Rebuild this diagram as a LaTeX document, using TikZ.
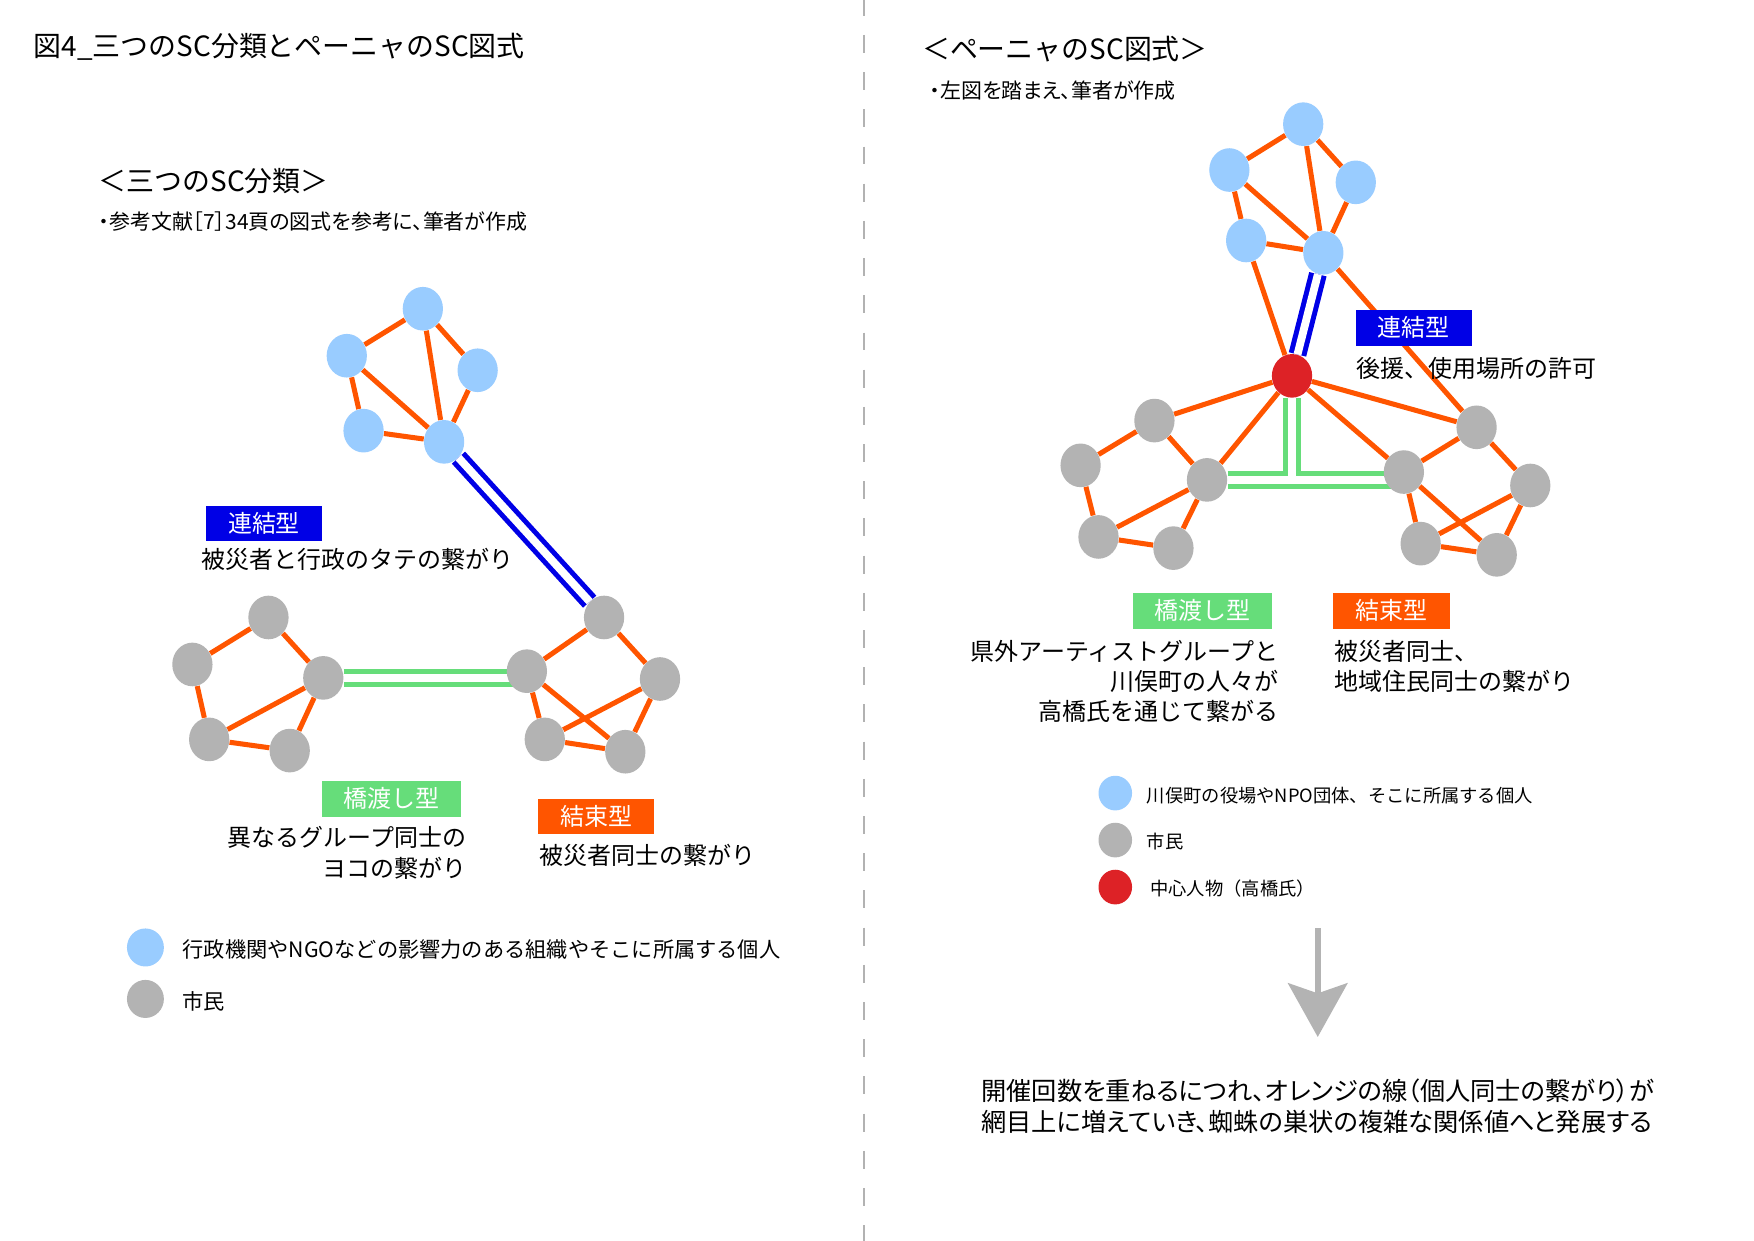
\documentclass[tikz,border=0pt]{standalone}
\usepackage{fontspec}
\setmainfont{Noto Sans CJK JP}
\newfontfamily\proptext[RawFeature=+palt]{Noto Sans CJK JP}
\usepackage{xcolor}
\usetikzlibrary{arrows.meta,shapes,positioning,calc,backgrounds}

\definecolor{orgblue}{RGB}{153,204,255}
\definecolor{citgray}{RGB}{179,179,179}
\definecolor{keyred}{RGB}{221,34,38}
\definecolor{bondorange}{RGB}{255,85,0}
\definecolor{linkblue}{RGB}{0,0,230}
\definecolor{bridgegreen}{RGB}{102,221,122}
\definecolor{rulegray}{RGB}{178,178,178}

\begin{document}
\begin{tikzpicture}[x=0.2mm,y=-0.2mm,
    person/.style={ellipse, fill=orgblue, minimum width=7.2mm, minimum height=7.8mm, inner sep=0},
    citizen/.style={person, fill=citgray},
    leader/.style={person, fill=keyred},
    tie/.style={bondorange, line width=0.9mm},
    vlink/.style={linkblue, line width=0.9mm, double=white, double distance=1.4mm},
    hlink/.style={bridgegreen, line width=0.9mm, double=white, double distance=1.4mm},
    tag/.style={text=white, font=\fontsize{12.2pt}{14pt}\selectfont, minimum width=20.8mm, minimum height=6.4mm, inner sep=0},
    desc/.style={font=\fontsize{12.2pt}{15.4pt}\selectfont, inner sep=0},
    heading/.style={font=\fontsize{14.2pt}{17pt}\selectfont, anchor=west, inner sep=0},
    remark/.style={font=\proptext\fontsize{10.65pt}{12pt}\selectfont, anchor=west, inner sep=0},
    keytext/.style={font=\fontsize{10.8pt}{13pt}\selectfont, anchor=west, inner sep=0},
    keytextr/.style={keytext, font=\fontsize{9.3pt}{11pt}\selectfont},
    keydot/.style={minimum width=6.6mm, minimum height=6.8mm},
    keydotr/.style={minimum width=6mm, minimum height=6.2mm},
    summary/.style={font=\proptext\fontsize{12.85pt}{15.9pt}\selectfont, inner sep=0}]

    \useasboundingbox (0,0) rectangle (1568,1109);

    % Headings
    \node[heading] (title) at (30,42) {図4\_三つのSC分類とペーニャのSC図式};
    \node[heading] (ltitle) at (88,162) {＜三つのSC分類＞};
    \node[remark] (lnote) at (88,198) {・参考文献［7］34頁の図式を参考に、筆者が作成};
    \node[heading] (rtitle) at (824,44) {＜ペーニャのSC図式＞};
    \node[remark] (rnote) at (831,81) {・左図を踏まえ、筆者が作成};

    % Left: three SC types
    \node[person] (bT) at (378,276) {};
    \node[person] (bL) at (310,318) {};
    \node[person] (bR) at (427,331) {};
    \node[person] (bB) at (325,385) {};
    \node[person] (bH) at (397,395) {};

    \node[citizen] (gT) at (240,552) {};
    \node[citizen] (gL) at (172,594) {};
    \node[citizen] (gH) at (289,606) {};
    \node[citizen] (gBL) at (187,661) {};
    \node[citizen] (gB) at (259,671) {};

    \node[citizen] (hT) at (540,552) {};
    \node[citizen] (hH) at (471,600) {};
    \node[citizen] (hR) at (590,607) {};
    \node[citizen] (hBL) at (487,661) {};
    \node[citizen] (hB) at (559,672) {};

    \node[tag, fill=linkblue] (ltagV) at (236,468) {連結型};
    \node[desc, anchor=west] (ldescV) at (180,500) {被災者と行政のタテの繋がり};
    \node[tag, fill=bridgegreen, minimum width=24.8mm] (ltagB) at (350,714) {橋渡し型};
    \node[desc, anchor=east, align=right] (ldescB) at (417,762.5) {異なるグループ同士の\\ヨコの繋がり};
    \node[tag, fill=bondorange] (ltagT) at (533,730) {結束型};
    \node[desc, anchor=west] (ldescT) at (482,765) {被災者同士の繋がり};

    \node[person, keydot] (lkeyO) at (130,847) {};
    \node[keytext] (lkeyOt) at (163,849) {行政機関やNGOなどの影響力のある組織やそこに所属する個人};
    \node[citizen, keydot] (lkeyC) at (130,893) {};
    \node[keytext] (lkeyCt) at (163,895) {市民};

    % Right: Pena's SC scheme
    \node[person] (pT) at (1165,111) {};
    \node[person] (pL) at (1099,152) {};
    \node[person] (pR) at (1212,163) {};
    \node[person] (pB) at (1114,215) {};
    \node[person] (pH) at (1183,226) {};

    \node[leader] (ctr) at (1155,336) {};

    \node[citizen] (kT) at (1032,376) {};
    \node[citizen] (kL) at (966,416) {};
    \node[citizen] (kH) at (1079,429) {};
    \node[citizen] (kBL) at (982,480) {};
    \node[citizen] (kB) at (1049,490) {};

    \node[citizen] (lT) at (1320,382) {};
    \node[citizen] (lH) at (1255,422) {};
    \node[citizen] (lR) at (1368,434) {};
    \node[citizen] (lBL) at (1270,486) {};
    \node[citizen] (lB) at (1338,496) {};

    \node[tag, fill=linkblue] (rtagV) at (1264,293) {連結型};
    \node[desc, anchor=west] (rdescV) at (1212,329) {後援、使用場所の許可};
    \node[tag, fill=bridgegreen, minimum width=24.8mm] (rtagB) at (1075,546) {橋渡し型};
    \node[desc, anchor=east, align=right] (rdescB) at (1143,609) {県外アーティストグループと\\川俣町の人々が\\高橋氏を通じて繋がる};
    \node[tag, fill=bondorange] (rtagT) at (1244,546) {結束型};
    \node[desc, anchor=west, align=left] (rdescT) at (1193,595.5) {被災者同士、\\地域住民同士の繋がり};

    \node[person, keydotr] (rkeyO) at (997,709) {};
    \node[keytextr] (rkeyOt) at (1025,711) {川俣町の役場やNPO団体、そこに所属する個人};
    \node[citizen, keydotr] (rkeyC) at (997,751) {};
    \node[keytextr] (rkeyCt) at (1025,752) {市民};
    \node[leader, keydotr] (rkeyL) at (997,793) {};
    \node[keytextr] (rkeyLt) at (1028,794) {中心人物（高橋氏）};

    % Growth arrow and summary
    \coordinate (arrS) at (1178,830);
    \coordinate (arrE) at (1178,927);
    \draw[citgray, line width=1.1mm, -{Stealth[length=9.6mm, width=10.6mm, inset=1.8mm]}] (arrS) -- (arrE);
    \node[summary, anchor=west, align=left] (sum) at (877,989) {開催回数を重ねるにつれ、オレンジの線（個人同士の繋がり）が\\網目上に増えていき、蜘蛛の巣状の複雑な関係値へと発展する};

    \begin{scope}[on background layer]
        \fill[white] (0,0) rectangle (1568,1109);
        \draw[rulegray, line width=0.36mm, dash pattern=on 3.2mm off 3.45mm, dash phase=0.4mm] (772,0) -- (772,1109);

        % left links
        \draw[tie] (bT) -- (bL) (bT) -- (bR) (bT) -- (bH) (bL) -- (bH) (bL) -- (bB) (bB) -- (bH) (bR) -- (bH);
        \draw[tie] (gT) -- (gL) (gT) -- (gH) (gL) -- (gBL) (gBL) -- (gH) (gBL) -- (gB) (gB) -- (gH);
        \draw[tie] (hH) -- (hT) (hT) -- (hR) (hH) -- (hBL) (hH) -- (hB) (hBL) -- (hR) (hBL) -- (hB) (hB) -- (hR);
        \draw[vlink] (bH) -- (hT);
        \draw[hlink] (gH) -- (gH -| hH);

        % right links
        \draw[tie] (pT) -- (pL) (pT) -- (pR) (pT) -- (pH) (pL) -- (pH) (pL) -- (pB) (pB) -- (pH) (pR) -- (pH);
        \draw[tie] (pB) -- (ctr) (pH) -- (lT);
        \draw[tie] (ctr) -- (kT) (ctr) -- (kH) (ctr) -- (lT) (ctr) -- (lH);
        \draw[tie] (kT) -- (kL) (kT) -- (kH) (kL) -- (kBL) (kBL) -- (kH) (kBL) -- (kB) (kB) -- (kH);
        \draw[tie] (lH) -- (lT) (lT) -- (lR) (lH) -- (lBL) (lH) -- (lB) (lBL) -- (lR) (lBL) -- (lB) (lB) -- (lR);
        \draw[vlink] (pH) -- (ctr);
        \draw[hlink] (kH) -- (kH -| lH);
        \draw[hlink] (ctr) -- ($(ctr |- kH)+(0,0.7mm)$);
    \end{scope}
\end{tikzpicture}
\end{document}
